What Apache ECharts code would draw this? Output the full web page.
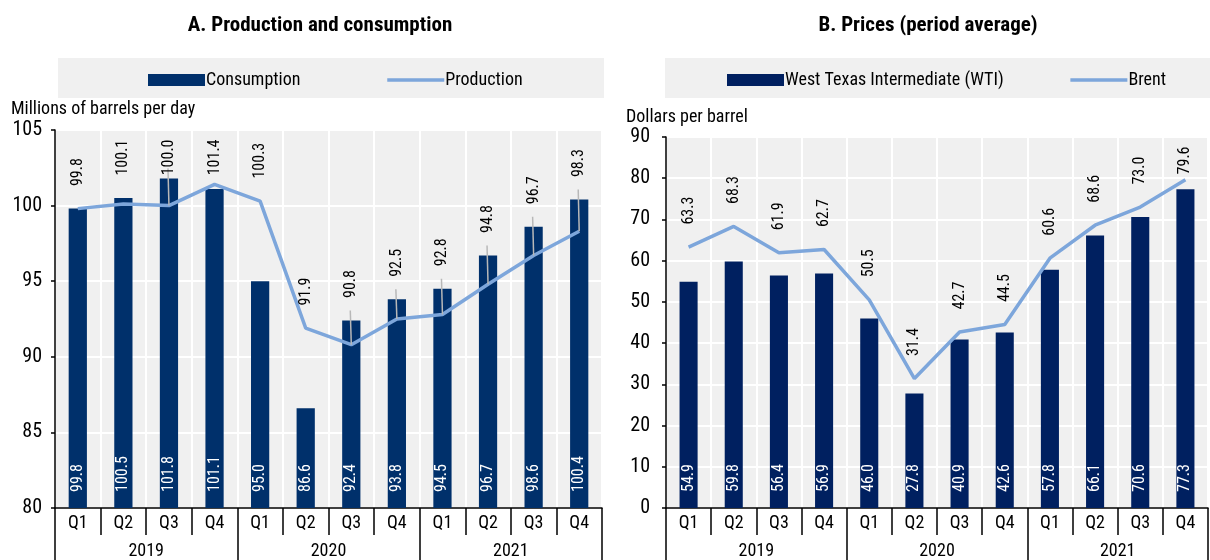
<!DOCTYPE html>
<html>
<head>
<meta charset="utf-8">
<script src="https://cdn.jsdelivr.net/npm/echarts@6/dist/echarts.min.js"></script>
<style>
  html, body { margin: 0; padding: 0; background: #fff; }
  #chart { width: 1210px; height: 560px; }
</style>
</head>
<body>
<div id="chart"></div>
<script>
// data
const quarters = ['Q1', 'Q2', 'Q3', 'Q4', 'Q1', 'Q2', 'Q3', 'Q4', 'Q1', 'Q2', 'Q3', 'Q4']
const years = ['2019', '2020', '2021']
const consumption = [99.8, 100.5, 101.8, 101.1, 95.0, 86.6, 92.4, 93.8, 94.5, 96.7, 98.6, 100.4]
const production = [99.8, 100.1, 100.0, 101.4, 100.3, 91.9, 90.8, 92.5, 92.8, 94.8, 96.7, 98.3]
const wti = [54.9, 59.8, 56.4, 56.9, 46.0, 27.8, 40.9, 42.6, 57.8, 66.1, 70.6, 77.3]
const brent = [63.3, 68.3, 61.9, 62.7, 50.5, 31.4, 42.7, 44.5, 60.6, 68.6, 73.0, 79.6]

const FONT = '"Roboto Condensed", "Liberation Sans Narrow", "Arial Narrow", sans-serif'
const GRID_BG = '#F0F0F0'
const LINE_COLOR = '#7DA6DB'
const LABEL_SIZE = 16

const grids = [
  { left: 55, right: 608, top: 130, bottom: 52, min: 80, max: 105, step: 5 },
  { left: 666, right: 2, top: 137, bottom: 52, min: 0, max: 90, step: 10 }
]

function pxPerUnit(g) {
  return (560 - g.top - g.bottom) / (g.max - g.min)
}

const measureCtx = document.createElement('canvas').getContext('2d')
function textLen(s) {
  measureCtx.font = LABEL_SIZE + 'px ' + FONT
  return measureCtx.measureText(s).width
}

function xAxes(gi) {
  return [
    {
      type: 'category', gridIndex: gi, data: quarters,
      axisLine: { lineStyle: { color: '#000', width: 1.5 } },
      axisTick: { show: true, length: 27, interval: 0, lineStyle: { color: '#000', width: 1.5 } },
      axisLabel: { interval: 0, margin: 6, color: '#000', fontSize: 18, fontFamily: FONT },
      splitLine: { show: true, interval: 0, lineStyle: { color: '#fff', width: 2 } }
    },
    {
      type: 'category', gridIndex: gi, data: years, position: 'bottom',
      axisLine: { show: false },
      axisTick: { show: true, length: 60, interval: 0, lineStyle: { color: '#000', width: 1.5 } },
      axisLabel: { interval: 0, margin: 34, color: '#000', fontSize: 18, fontFamily: FONT },
      splitLine: { show: false }
    }
  ]
}

function yAxis(gi, g, margin) {
  return {
    type: 'value', gridIndex: gi, min: g.min, max: g.max, interval: g.step,
    axisLine: { show: true, lineStyle: { color: '#000', width: 1.5 } },
    axisTick: { show: true, length: 4, lineStyle: { color: '#000', width: 1.5 } },
    axisLabel: { margin: margin, color: '#000', fontSize: 20, fontFamily: FONT },
    splitLine: { show: true, lineStyle: { color: '#fff', width: 2 } }
  }
}

function barSeries(name, values, gi, color) {
  return {
    name: name, type: 'bar', xAxisIndex: gi * 2, yAxisIndex: gi,
    data: values, barWidth: '40%',
    itemStyle: { color: color },
    label: {
      show: true, position: 'insideBottom', distance: 16, rotate: 90,
      align: 'left', verticalAlign: 'middle',
      color: '#fff', fontSize: LABEL_SIZE, fontFamily: FONT,
      formatter: p => p.value.toFixed(1)
    },
    z: 2
  }
}

function lineSeries(name, values, gi) {
  return {
    name: name, type: 'line', xAxisIndex: gi * 2, yAxisIndex: gi,
    data: values, symbol: 'none',
    lineStyle: { color: LINE_COLOR, width: 3.5 },
    itemStyle: { color: LINE_COLOR },
    z: 3
  }
}

// labels for the line sit above whichever is higher, the bar or the point,
// but never closer than 10px to the top of the plot
function lineLabels(name, values, bars, gi) {
  const g = grids[gi]
  const k = pxPerUnit(g)
  return {
    name: name + ' labels', type: 'line', xAxisIndex: gi * 2, yAxisIndex: gi,
    data: values.map((v, i) => {
      const lift = Math.max(0, bars[i] - v) * k
      const room = (g.max - v) * k - textLen(v.toFixed(1)) - 10
      return { value: v, label: { distance: Math.min(22 + lift, room) } }
    }),
    symbol: 'circle', symbolSize: 1,
    itemStyle: { color: 'rgba(0,0,0,0)' },
    lineStyle: { width: 0, opacity: 0 },
    label: {
      show: true, position: 'top', rotate: 90,
      align: 'left', verticalAlign: 'middle',
      color: '#000', fontSize: LABEL_SIZE, fontFamily: FONT,
      formatter: p => p.value.toFixed(1)
    },
    silent: true,
    z: 4
  }
}

// grey leader from the point up towards a label that was lifted over its bar
function leaders(values, bars, gi) {
  const k = pxPerUnit(grids[gi])
  const rows = []
  values.forEach((v, i) => {
    if ((bars[i] - v) * k > 10) rows.push([i, v, bars[i]])
  })
  return {
    type: 'custom', xAxisIndex: gi * 2, yAxisIndex: gi,
    data: rows, silent: true, z: 4,
    encode: { x: 0, y: 1 },
    renderItem: function (params, api) {
      const p = api.coord([api.value(0), api.value(1)])
      const top = api.coord([api.value(0), api.value(2)])
      return {
        type: 'line',
        shape: { x1: p[0], y1: p[1], x2: p[0] - 1, y2: top[1] - 10 },
        style: { stroke: '#B8B8B8', lineWidth: 1.5 }
      }
    }
  }
}

const chart = echarts.init(document.getElementById('chart'))

const legendCommon = {
  top: 71, padding: 0, itemWidth: 57, itemHeight: 12,
  lineStyle: { width: 3.5 },
  textStyle: { fontSize: 18, color: '#000', fontFamily: FONT, padding: [0, 0, 0, -4] }
}

const option = {
  animation: false,
  backgroundColor: '#fff',
  textStyle: { fontFamily: FONT },
  title: [
    { text: 'A. Production and consumption', left: 315, top: 10, textAlign: 'center',
      textStyle: { fontSize: 21, fontWeight: 'bold', color: '#000', fontFamily: FONT } },
    { text: 'B. Prices (period average)', left: 923, top: 10, textAlign: 'center',
      textStyle: { fontSize: 21, fontWeight: 'bold', color: '#000', fontFamily: FONT } },
    { text: 'Millions of barrels per day', left: 11, top: 100, padding: 0,
      textStyle: { fontSize: 18, fontWeight: 'normal', color: '#000', fontFamily: FONT } },
    { text: 'Dollars per barrel', left: 626, top: 108, padding: 0,
      textStyle: { fontSize: 18, fontWeight: 'normal', color: '#000', fontFamily: FONT } }
  ],
  graphic: [
    { type: 'rect', z: -1, shape: { x: 58, y: 58, width: 546, height: 40 }, style: { fill: GRID_BG } },
    { type: 'rect', z: -1, shape: { x: 665, y: 58, width: 545, height: 40 }, style: { fill: GRID_BG } }
  ],
  legend: [
    Object.assign({}, legendCommon, {
      data: [{ name: 'Consumption', icon: 'rect' }, { name: 'Production', itemStyle: { opacity: 0 } }],
      left: 148, itemGap: 85
    }),
    Object.assign({}, legendCommon, {
      data: [{ name: 'West Texas Intermediate (WTI)', icon: 'rect' }, { name: 'Brent', itemStyle: { opacity: 0 } }],
      left: 727, itemGap: 65
    })
  ],
  grid: grids.map(g => ({
    left: g.left, right: g.right, top: g.top, bottom: g.bottom,
    show: true, backgroundColor: GRID_BG, borderWidth: 0
  })),
  xAxis: xAxes(0).concat(xAxes(1)),
  yAxis: [yAxis(0, grids[0], 13), yAxis(1, grids[1], 16)],
  series: [
    barSeries('Consumption', consumption, 0, '#00306B'),
    lineSeries('Production', production, 0),
    leaders(production, consumption, 0),
    lineLabels('Production', production, consumption, 0),
    barSeries('West Texas Intermediate (WTI)', wti, 1, '#002060'),
    lineSeries('Brent', brent, 1),
    leaders(brent, wti, 1),
    lineLabels('Brent', brent, wti, 1)
  ]
}

chart.setOption(option)
</script>
</body>
</html>
